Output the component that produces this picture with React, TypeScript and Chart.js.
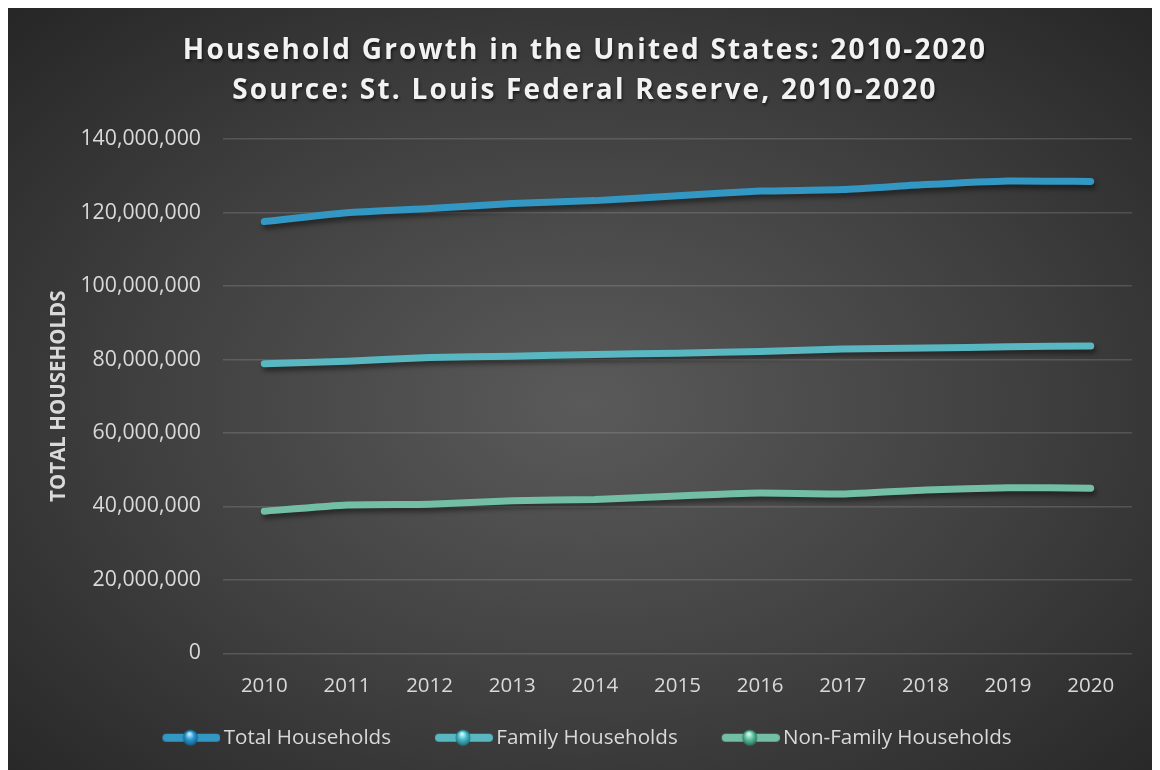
import React, { useEffect, useRef } from 'react';
import { Chart, registerables } from 'chart.js';

Chart.register(...registerables);

const titleLines = [
  'Household Growth in the United States: 2010-2020',
  'Source: St. Louis Federal Reserve, 2010-2020',
];
const yAxisTitle = 'TOTAL HOUSEHOLDS';
const years = ['2010', '2011', '2012', '2013', '2014', '2015', '2016', '2017', '2018', '2019', '2020'];
const seriesNames = ['Total Households', 'Family Households', 'Non-Family Households'];
const totalHouseholds = [117538000, 119927000, 121084000, 122459000, 123229000, 124587000, 125819000, 126224000, 127586000, 128579000, 128451000];
const familyHouseholds = [78833000, 79539000, 80506000, 80902000, 81353000, 81716000, 82184000, 82827000, 83088000, 83481000, 83677000];
const nonFamilyHouseholds = [38705000, 40388000, 40578000, 41557000, 41876000, 42871000, 43635000, 43397000, 44498000, 45098000, 44974000];
const seriesColors = ['#3397c4', '#58b7c1', '#72bfa5'];
const ballColors = [
  ['#bfe9ff', '#2a9bd6', '#135a80'],
  ['#c8f4fa', '#48bccb', '#1f6f78'],
  ['#d2f7e6', '#5fc3a0', '#2b6d56'],
];

const FONT = '"Open Sans", "DejaVu Sans", sans-serif';
const TEXT = '#d9d9d9';

function makeLegendIcon(i: number): HTMLCanvasElement {
  const c = document.createElement('canvas');
  c.width = 99;
  c.height = 22;
  const g = c.getContext('2d')!;
  const x0 = 45;
  const x1 = 95;
  const cy = 11;
  g.strokeStyle = seriesColors[i];
  g.lineWidth = 8;
  g.lineCap = 'round';
  g.beginPath();
  g.moveTo(x0, cy);
  g.lineTo(x1, cy);
  g.stroke();
  const cx = (x0 + x1) / 2 - 1;
  const grad = g.createRadialGradient(cx - 1, cy - 4, 1, cx, cy, 8);
  grad.addColorStop(0, ballColors[i][0]);
  grad.addColorStop(0.45, ballColors[i][1]);
  grad.addColorStop(1, ballColors[i][2]);
  g.fillStyle = grad;
  g.beginPath();
  g.ellipse(cx, cy, 7.5, 8, 0, 0, Math.PI * 2);
  g.fill();
  return c;
}

const titlePlugin = {
  id: 'customTitle',
  afterDraw(chart: any) {
    const ctx = chart.ctx;
    ctx.save();
    ctx.font = `bold 28px ${FONT}`;
    (ctx as any).letterSpacing = '2.2px';
    ctx.fillStyle = '#f2f2f2';
    ctx.textAlign = 'center';
    ctx.textBaseline = 'middle';
    ctx.shadowColor = 'rgba(0,0,0,0.6)';
    ctx.shadowBlur = 3;
    ctx.shadowOffsetX = 1;
    ctx.shadowOffsetY = 2;
    ctx.fillText(titleLines[0], chart.width / 2 + 1, 43);
    ctx.fillText(titleLines[1], chart.width / 2 + 1, 83);
    ctx.restore();
  },
};

const shadowPlugin = {
  id: 'lineShadow',
  beforeDatasetDraw(chart: any) {
    const ctx = chart.ctx;
    ctx.save();
    ctx.shadowColor = 'rgba(0,0,0,0.45)';
    ctx.shadowBlur = 5;
    ctx.shadowOffsetX = 2;
    ctx.shadowOffsetY = 4;
  },
  afterDatasetDraw(chart: any) {
    chart.ctx.restore();
  },
};

export default function App() {
  const ref = useRef<HTMLCanvasElement>(null);
  useEffect(() => {
    const icons = [0, 1, 2].map(makeLegendIcon);
    const values = [totalHouseholds, familyHouseholds, nonFamilyHouseholds];
    const chart = new Chart(ref.current!, {
      type: 'line',
      data: {
        labels: years,
        datasets: seriesNames.map((name, i) => ({
          label: name,
          data: values[i],
          borderColor: seriesColors[i],
          backgroundColor: seriesColors[i],
          borderWidth: 7,
          borderCapStyle: 'round',
          borderJoinStyle: 'round',
          pointRadius: 0,
          pointHoverRadius: 0,
          tension: 0.15,
          fill: false,
        })),
      },
      options: {
        animation: false,
        responsive: false,
        layout: { padding: { top: 131, right: 28, bottom: 12, left: 0 } },
        plugins: {
          title: { display: false },
          tooltip: { enabled: false },
          legend: {
            position: 'bottom',
            labels: {
              usePointStyle: true,
              pointStyleWidth: 85,
              padding: 10,
              color: TEXT,
              font: { family: FONT, size: 20.6 },
              generateLabels: (ch: any) =>
                Chart.defaults.plugins.legend.labels.generateLabels(ch).map((l: any, i: number) => ({
                  ...l,
                  pointStyle: icons[i],
                })),
            },
          },
        },
        scales: {
          x: {
            offset: true,
            grid: { display: false, drawTicks: false },
            border: { display: false },
            ticks: { color: TEXT, font: { family: FONT, size: 20.5 }, padding: 20 },
            afterFit: (s: any) => {
              s.height = 64;
            },
          },
          y: {
            min: 0,
            max: 140000000,
            grid: { color: 'rgba(200,200,200,0.2)', lineWidth: 1.5, drawTicks: false },
            border: { display: false },
            ticks: {
              stepSize: 20000000,
              color: TEXT,
              padding: 22,
              font: { family: FONT, size: 21.3 },
              callback: (v: any) => Number(v).toLocaleString('en-US'),
            },
            title: {
              display: true,
              text: yAxisTitle,
              color: TEXT,
              font: { family: FONT, size: 20.5, weight: 'bold' },
              padding: { top: 39, bottom: 0 },
            },
            afterFit: (s: any) => {
              s.width = 215;
            },
          },
        },
      } as any,
      plugins: [titlePlugin, shadowPlugin],
    });
    return () => chart.destroy();
  }, []);

  return (
    <div
      style={{
        width: 1152,
        height: 762,
        background: 'radial-gradient(ellipse farthest-corner at 50% 52%, #5a5a5a 0%, #3f3f3f 55%, #262626 100%)',
      }}
    >
      <canvas ref={ref} width={1152} height={762} style={{ display: 'block' }} />
    </div>
  );
}
